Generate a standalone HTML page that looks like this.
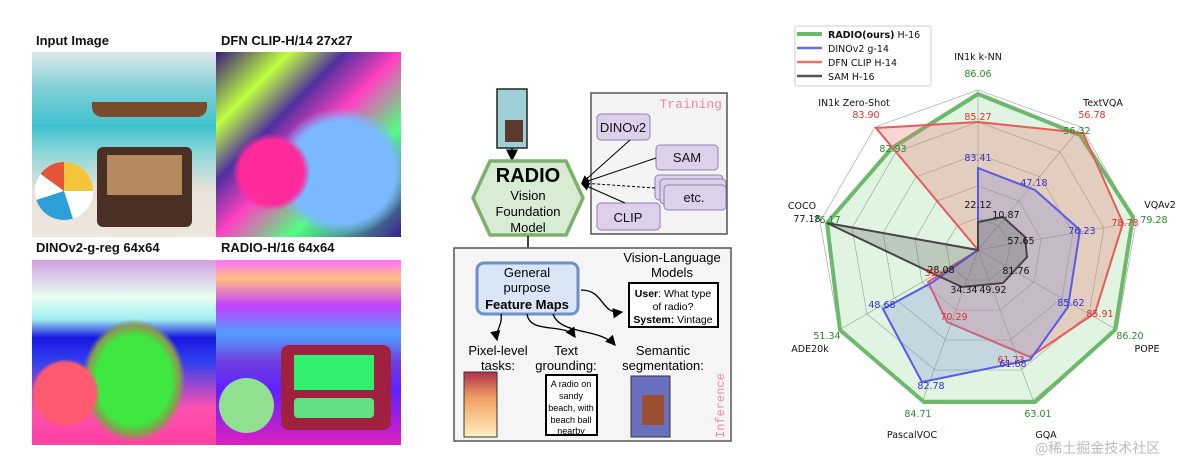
<!DOCTYPE html>
<html><head><meta charset="utf-8"><style>
body{margin:0;width:1200px;height:466px;background:#fff;overflow:hidden;position:relative;font-family:"Liberation Sans",sans-serif}
.lbl{position:absolute;font-weight:bold;font-size:13px;color:#111}
.img{position:absolute;width:185px;height:185px}
</style></head><body>
<div class="lbl" style="left:36px;top:33px">Input Image</div>
<div class="lbl" style="left:221px;top:33px">DFN CLIP-H/14 27x27</div>
<div class="lbl" style="left:36px;top:240px">DINOv2-g-reg 64x64</div>
<div class="lbl" style="left:221px;top:240px">RADIO-H/16 64x64</div>
<div class="img" style="left:32px;top:52px;background:linear-gradient(180deg,#dfe8ec 0%,#7fcfd6 20%,#3fc3d0 40%,#8fd7d8 55%,#e8e2da 75%,#ece6dd 100%)">
 <div style="position:absolute;left:65px;top:95px;width:95px;height:80px;background:#4a3024;border-radius:6px"></div>
 <div style="position:absolute;left:75px;top:103px;width:75px;height:40px;background:#b58a60"></div>
 <div style="position:absolute;left:3px;top:110px;width:58px;height:58px;border-radius:50%;background:conic-gradient(#f4c43a 0 25%,#fff 25% 45%,#2e9fd6 45% 70%,#fff 70% 85%,#e5553a 85%)"></div>
 <div style="position:absolute;left:60px;top:50px;width:115px;height:15px;background:#7a4b2a;border-radius:0 0 10px 10px"></div>
</div>
<div class="img" style="left:216px;top:52px;background:radial-gradient(circle at 30% 65%,#ff2a9c 0 18%,transparent 22%),radial-gradient(ellipse at 68% 65%,#7ab8ff 0 30%,transparent 38%),linear-gradient(135deg,#3a1a7a,#c0ff40 20%,#5030a0 35%,#ff40c0 50%,#50ff80 70%,#3a2090)"></div>
<div class="img" style="left:32px;top:260px;background:radial-gradient(circle at 18% 72%,#ff5a70 0 15%,transparent 17%),radial-gradient(ellipse at 55% 65%,#3ee840 0 26%,#8a9a50 32%,transparent 36%),linear-gradient(180deg,#d0a0e0 0%,#e8fff0 20%,#a0f0f0 32%,#1818e0 42%,#3040f0 55%,#ff50b0 80%,#ff40a0 100%)"></div>
<div class="img" style="left:216px;top:260px;background:linear-gradient(180deg,#ff70ff 0%,#ffc080 10%,#c040ff 25%,#50a0ff 40%,#7040e0 55%,#6020ff 70%,#e020c0 100%)">
 <div style="position:absolute;left:65px;top:85px;width:110px;height:85px;background:#a02040;border-radius:8px"></div>
 <div style="position:absolute;left:78px;top:95px;width:80px;height:35px;background:#30f070"></div>
 <div style="position:absolute;left:78px;top:138px;width:80px;height:20px;background:#60e080;border-radius:4px"></div>
 <div style="position:absolute;left:3px;top:118px;width:55px;height:55px;border-radius:50%;background:#90e090"></div>
</div>

<svg style="position:absolute;left:0;top:0" width="1200" height="466" font-family="Liberation Sans,sans-serif">
<defs><marker id="ah" markerWidth="8" markerHeight="8" refX="7" refY="4" orient="auto"><path d="M0,0L8,4L0,8z" fill="#000"/></marker></defs>
<!-- middle -->
<rect x="497" y="89" width="30" height="59" fill="#9fd0d8" stroke="#222" stroke-width="1.5"/>
<rect x="505" y="120" width="18" height="22" fill="#5a3a2a"/>
<line x1="512" y1="148" x2="512" y2="160" stroke="#000" stroke-width="1.5" marker-end="url(#ah)"/>
<rect x="591" y="93" width="136" height="141" fill="#f4f4f4" stroke="#555" stroke-width="1.5"/>
<text x="722" y="108" font-family="Liberation Mono,monospace" font-size="13" fill="#f28a9a" text-anchor="end">Training</text>
<g fill="#ddd0ea" stroke="#8f7fae" stroke-width="1">
<rect x="597" y="114" width="53" height="26" rx="4"/><rect x="656" y="145" width="62" height="25" rx="4"/>
<rect x="655" y="175" width="68" height="25" rx="4"/><rect x="660" y="179" width="66" height="25" rx="4"/><rect x="664" y="185" width="62" height="25" rx="4"/>
<rect x="597" y="203" width="63" height="27" rx="4"/></g>
<g font-size="13" fill="#111" text-anchor="middle"><text x="623" y="132">DINOv2</text><text x="687" y="162">SAM</text><text x="694" y="202">etc.</text><text x="628" y="222">CLIP</text></g>
<g stroke="#000" stroke-width="1"><line x1="630" y1="140" x2="582" y2="183" marker-end="url(#ah)"/><line x1="656" y1="158" x2="582" y2="183" marker-end="url(#ah)"/><line x1="655" y1="188" x2="582" y2="183" stroke-dasharray="3,2" marker-end="url(#ah)"/><line x1="625" y1="203" x2="582" y2="184" marker-end="url(#ah)"/></g>
<polygon points="490,161 566,161 583,198 566,235 490,235 473,198" fill="#d7ecd3" stroke="#7db06e" stroke-width="3.5" stroke-linejoin="round"/>
<text x="528" y="182" font-size="20" font-weight="bold" text-anchor="middle">RADIO</text>
<g font-size="13" text-anchor="middle"><text x="528" y="200">Vision</text><text x="528" y="216">Foundation</text><text x="528" y="232">Model</text></g>
<line x1="528" y1="236" x2="528" y2="260" stroke="#000" stroke-width="1.5" marker-end="url(#ah)"/>
<rect x="454" y="248" width="277" height="193" fill="#f5f5f5" stroke="#555" stroke-width="1.5"/>
<rect x="477" y="263" width="101" height="51" rx="7" fill="#d8e6f8" stroke="#6d90c8" stroke-width="3"/>
<g font-size="13" text-anchor="middle"><text x="527" y="277">General</text><text x="527" y="292">purpose</text><text x="527" y="309" font-weight="bold">Feature Maps</text>
<text x="672" y="262">Vision-Language</text><text x="672" y="277">Models</text>
<text x="498" y="355">Pixel-level</text><text x="498" y="370">tasks:</text>
<text x="566" y="355">Text</text><text x="566" y="370">grounding:</text>
<text x="663" y="355">Semantic</text><text x="663" y="370">segmentation:</text></g>
<rect x="629" y="283" width="89" height="44" fill="#fff" stroke="#000" stroke-width="2"/>
<g font-size="10.5" text-anchor="middle"><text x="673" y="297"><tspan font-weight="bold">User</tspan>: What type</text><text x="673" y="310">of radio?</text><text x="673" y="323"><tspan font-weight="bold">System:</tspan> Vintage</text></g>
<g stroke="#000" stroke-width="1.3" fill="none"><path d="M581,290 C605,290 600,315 622,312" marker-end="url(#ah)"/><path d="M501,314 C503,325 495,330 497,340" marker-end="url(#ah)"/><path d="M527,314 C530,335 565,322 575,337" marker-end="url(#ah)"/><path d="M553,314 C560,335 600,328 615,345" marker-end="url(#ah)"/></g>
<defs><linearGradient id="g1" x1="0" y1="0" x2="0" y2="1"><stop offset="0" stop-color="#b03050"/><stop offset=".4" stop-color="#f0a060"/><stop offset="1" stop-color="#fff0c0"/></linearGradient></defs>
<rect x="464" y="372" width="33" height="65" fill="url(#g1)" stroke="#333"/>
<rect x="546" y="375" width="51" height="60" fill="#fff" stroke="#000" stroke-width="2"/>
<g font-size="9" text-anchor="middle"><text x="571" y="387">A  radio on</text><text x="571" y="399">sandy</text><text x="571" y="411">beach, with</text><text x="571" y="423">beach ball</text><text x="571" y="434">nearby</text></g>
<rect x="631" y="376" width="39" height="61" fill="#6a70c0" stroke="#333"/><rect x="642" y="395" width="22" height="30" fill="#9a5030"/>
<text font-family="Liberation Mono,monospace" font-size="12" fill="#f28a9a" transform="translate(724,438) rotate(-90)">Inference</text>

<!-- radar -->
<g fill="none" stroke="#999" stroke-width="0.6">
<polygon points="978,90 1081,127 1136,222 1117,330 1033,400 923,400 839,330 820,222 875,127"/>
<polygon points="978,122 1060,152 1104,228 1089,314 1021,370 935,370 867,314 852,228 896,152"/>
<polygon points="978,154 1040,177 1073,233 1062,298 1010,340 946,340 894,298 883,233 916,177"/>
<polygon points="978,186 1019,201 1041,239 1034,282 1000,310 956,310 922,282 915,239 937,201"/>
<polygon points="978,218 999,226 1010,244 1006,266 989,280 967,280 950,266 946,244 957,226"/>
<line x1="978" y1="250" x2="978" y2="90"/><line x1="978" y1="250" x2="1081" y2="127"/><line x1="978" y1="250" x2="1136" y2="222"/><line x1="978" y1="250" x2="1117" y2="330"/><line x1="978" y1="250" x2="1033" y2="400"/><line x1="978" y1="250" x2="923" y2="400"/><line x1="978" y1="250" x2="839" y2="330"/><line x1="978" y1="250" x2="820" y2="222"/><line x1="978" y1="250" x2="875" y2="127"/>
</g>
<polygon points="978,94 1080,135 1133,217 1115,330 1035,402 924,402 840,330 827,223 892,148" fill="rgba(120,200,120,0.22)" stroke="#6cb96c" stroke-width="4" stroke-linejoin="round"/>
<polygon points="978,122 1083,133 1123,223 1095,313 1030,357 947,322 928,282 978,250 876,128" fill="rgba(230,120,110,0.3)" stroke="#e85a5a" stroke-width="2"/>
<polygon points="978,168 1035,190 1080,230 1068,307 1030,360 922,382 883,309 933,282 978,250" fill="rgba(110,130,220,0.25)" stroke="#5a5ae8" stroke-width="2"/>
<polygon points="978,222 1003,217 1025,237 1027,257 1003,283 962,287 932,273 827,223 978,250" fill="rgba(80,80,80,0.25)" stroke="#444" stroke-width="2"/>
<g font-family="DejaVu Sans,sans-serif" font-size="9.5" text-anchor="middle">
<g fill="#111"><text x="978" y="60">IN1k k-NN</text><text x="1103" y="106">TextVQA</text><text x="1160" y="208">VQAv2</text><text x="1147" y="352">POPE</text><text x="1046" y="438">GQA</text><text x="912" y="438">PascalVOC</text><text x="810" y="352">ADE20k</text><text x="802" y="209">COCO</text><text x="854" y="106">IN1k Zero-Shot</text>
<text x="807" y="222">77.18</text><text x="978" y="208">22.12</text><text x="1006" y="218">10.87</text><text x="1021" y="244">57.65</text><text x="1016" y="274">81.76</text><text x="941" y="273">28.08</text><text x="964" y="293">34.34</text><text x="993" y="293">49.92</text></g>
<g fill="#2a8a2a"><text x="978" y="77">86.06</text><text x="1077" y="134">56.32</text><text x="1154" y="223">79.28</text><text x="1130" y="339">86.20</text><text x="1038" y="417">63.01</text><text x="918" y="417">84.71</text><text x="827" y="339">51.34</text><text x="827" y="223">76.17</text><text x="893" y="152">82.93</text></g>
<g fill="#e03030"><text x="1092" y="118">56.78</text><text x="866" y="118">83.90</text><text x="978" y="120">85.27</text><text x="1125" y="226">78.78</text><text x="1100" y="317">85.91</text><text x="1011" y="363">61.73</text><text x="954" y="320">70.29</text><text x="932" y="276">39.</text></g>
<g fill="#3030d0"><text x="978" y="161">83.41</text><text x="1034" y="186">47.18</text><text x="1082" y="234">76.23</text><text x="1071" y="306">85.62</text><text x="931" y="389">82.78</text><text x="882" y="308">48.68</text><text x="1013" y="367">61.68</text></g>
</g>
<rect x="795" y="26" width="136" height="60" fill="#fff" stroke="#ccc" rx="2"/>
<g stroke-width="2.5"><line x1="797" y1="34" x2="822" y2="34" stroke="#6cb96c" stroke-width="4"/><line x1="797" y1="48" x2="822" y2="48" stroke="#6a6af0"/><line x1="797" y1="62" x2="822" y2="62" stroke="#f07070"/><line x1="797" y1="76" x2="822" y2="76" stroke="#555"/></g>
<g font-family="DejaVu Sans,sans-serif" font-size="9.5" fill="#111"><text x="828" y="38"><tspan font-weight="bold">RADIO(ours)</tspan> H-16</text><text x="828" y="52">DINOv2 g-14</text><text x="828" y="66">DFN CLIP H-14</text><text x="828" y="80">SAM H-16</text></g>
<text x="1035" y="453" font-family="Noto Sans CJK SC,sans-serif" font-size="14" fill="#bbb">@稀土掘金技术社区</text>
</svg>
</body></html>
